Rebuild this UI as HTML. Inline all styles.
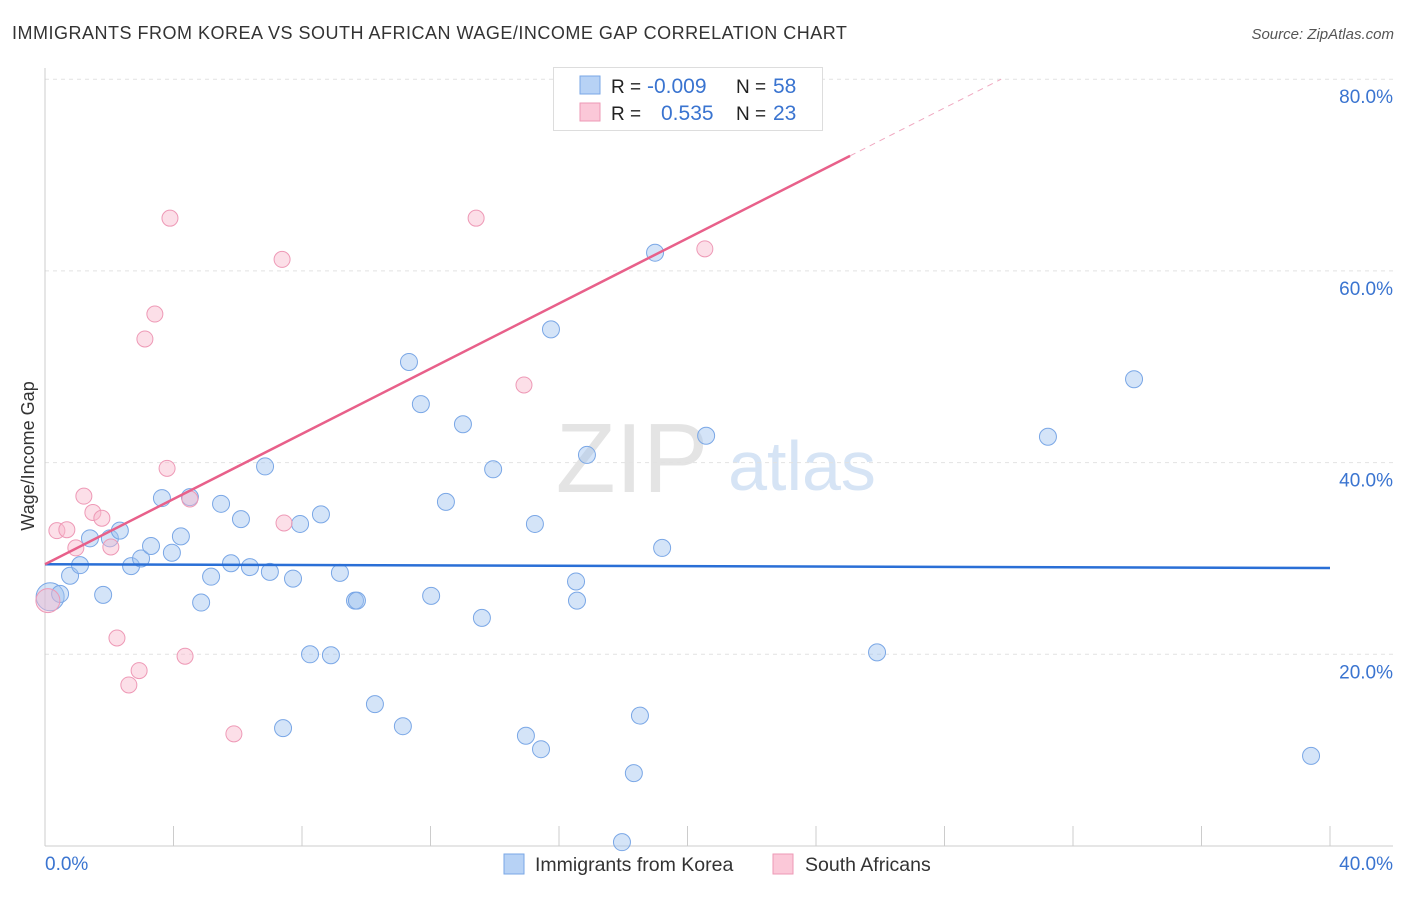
<!DOCTYPE html>
<html><head><meta charset="utf-8"><style>
body{margin:0;background:#fff;font-family:"Liberation Sans",sans-serif;}
svg text{font-family:"Liberation Sans",sans-serif;}
</style></head><body>
<svg id="chart" width="1406" height="892" xmlns="http://www.w3.org/2000/svg">
<text x="12" y="39" font-size="18" fill="#333" letter-spacing="0.5">IMMIGRANTS FROM KOREA VS SOUTH AFRICAN WAGE/INCOME GAP CORRELATION CHART</text>
<text x="1394" y="39" font-size="15" fill="#555" font-style="italic" text-anchor="end">Source: ZipAtlas.com</text>
<text x="34" y="456" font-size="18" fill="#333" text-anchor="middle" transform="rotate(-90 34 456)">Wage/Income Gap</text>
<g><text x="632" y="492" font-size="98" fill="#e4e4e4" font-family="Liberation Serif" text-anchor="middle">ZIP</text><text x="802" y="490" font-size="70" fill="#d6e4f5" text-anchor="middle">atlas</text></g>
<g id="grid"></g><g id="marks"></g>
<g>
<rect x="553.5" y="67.5" width="269" height="63" fill="#fff" stroke="#ddd"/>
<rect x="580" y="76" width="20" height="18" fill="#b7d2f5" stroke="#7aa7e6"/>
<rect x="580" y="103" width="20" height="18" fill="#fbc8d8" stroke="#ee99b6"/>
<text x="611" y="93" font-size="19" fill="#222">R =</text><text x="647" y="93" font-size="21" fill="#3a74d0">-0.009</text>
<text x="736" y="93" font-size="19" fill="#222">N =</text><text x="773" y="93" font-size="21" fill="#3a74d0">58</text>
<text x="611" y="120" font-size="19" fill="#222">R =</text><text x="661" y="120" font-size="21" fill="#3a74d0">0.535</text>
<text x="736" y="120" font-size="19" fill="#222">N =</text><text x="773" y="120" font-size="21" fill="#3a74d0">23</text>
</g>
<g>
<rect x="504" y="854" width="20" height="20" fill="#b7d2f5" stroke="#7aa7e6"/>
<text x="535" y="871" font-size="19.5" fill="#333">Immigrants from Korea</text>
<rect x="773" y="854" width="20" height="20" fill="#fbc8d8" stroke="#ee99b6"/>
<text x="805" y="871" font-size="19.5" fill="#333">South Africans</text>
</g>
</svg>
<script>
const xTicks=[0,40];
const yTicks=[20,40,60,80];
const koreaX=[0.16,0.47,0.78,1.09,1.40,1.81,2.02,2.33,2.68,2.99,3.30,3.64,3.95,4.23,4.51,4.86,5.17,5.48,5.79,6.10,6.38,6.85,7.00,7.41,7.72,7.94,8.25,8.59,8.90,9.18,9.65,9.71,10.27,11.14,11.33,11.70,12.02,12.48,13.01,13.60,13.95,14.97,15.25,15.44,15.75,16.53,16.56,16.87,17.96,18.33,18.52,18.99,19.21,20.58,25.90,31.22,33.90,39.41];
const koreaY=[26.0,26.3,28.2,29.3,32.1,26.2,32.1,32.9,29.2,30.0,31.3,36.3,30.6,32.3,36.4,25.4,28.1,35.7,29.5,34.1,29.1,39.6,28.6,12.3,27.9,33.6,20.0,34.6,19.9,28.5,25.6,25.6,14.8,12.5,50.5,46.1,26.1,35.9,44.0,23.8,39.3,11.5,33.6,10.1,53.9,27.6,25.6,40.8,0.4,7.6,13.6,61.9,31.1,42.8,20.2,42.7,48.7,9.4];
const safX=[0.09,0.37,0.68,0.96,1.21,1.49,1.77,2.05,2.24,2.61,2.93,3.11,3.42,3.80,3.89,4.36,4.51,5.88,7.38,7.44,13.42,14.91,20.54];
const safY=[25.6,32.9,33.0,31.1,36.5,34.8,34.2,31.2,21.7,16.8,18.3,52.9,55.5,39.4,65.5,19.8,36.2,11.7,61.2,33.7,65.5,48.1,62.3];
const koreaTrend=[29.4,29.0];
const safTrend=[29.4,1.70];
const NS="http://www.w3.org/2000/svg";
const sx=v=>45+v/40*1285;
const sy=v=>846-v/20*191.7;
function mk(tag,attrs,parent){const e=document.createElementNS(NS,tag);for(const k in attrs)e.setAttribute(k,attrs[k]);parent.appendChild(e);return e;}
const grid=document.getElementById('grid'),marks=document.getElementById('marks');
yTicks.forEach(v=>{
 const l=mk('line',{x1:45,x2:1393,y1:sy(v),y2:sy(v),stroke:'#e2e2e2','stroke-dasharray':'4,4'},grid);
 
 
 const t=mk('text',{x:1393,y:sy(v)+24,'font-size':19,fill:'#3a74d0','text-anchor':'end'},grid);t.textContent=v.toFixed(1)+'%';
 
 
});
for(let i=0;i<=10;i++){const x=sx(i*4);const l=mk('line',{x1:x,x2:x,y1:826,y2:846,stroke:'#ccc'},grid);
 
 }
let a=mk('line',{x1:45,x2:1393,y1:846,y2:846,stroke:'#ccc'},grid);


a=mk('line',{x1:45,x2:45,y1:68,y2:846,stroke:'#ccc'},grid);


xTicks.forEach((v,i)=>{const t=mk('text',{x:i?1393:45,y:870,'font-size':19,fill:'#3a74d0','text-anchor':i?'end':'start'},grid);t.textContent=v.toFixed(1)+'%';
 
 });
koreaX.forEach((x,i)=>{const c=mk('circle',{cx:sx(x),cy:sy(koreaY[i]),r:i==0?14:8.5,fill:'rgba(160,196,240,0.45)',stroke:'#7aa7e6','stroke-width':1},marks);
 
 });
safX.forEach((x,i)=>{const c=mk('circle',{cx:sx(x),cy:sy(safY[i]),r:i==0?12:8,fill:'rgba(248,184,204,0.45)',stroke:'#ee99b6','stroke-width':1},marks);
 
 });
let l=mk('line',{x1:sx(0),y1:sy(koreaTrend[0]),x2:sx(40),y2:sy(koreaTrend[1]),stroke:'#2a6fd6','stroke-width':2.5},marks);


const xe=25.06,xd=(80-safTrend[0])/safTrend[1];
l=mk('line',{x1:sx(0),y1:sy(safTrend[0]),x2:sx(xe),y2:sy(safTrend[0]+safTrend[1]*xe),stroke:'#e8608a','stroke-width':2.5},marks);


l=mk('line',{x1:sx(xe),y1:sy(safTrend[0]+safTrend[1]*xe),x2:sx(xd),y2:sy(80),stroke:'#f0a8c0','stroke-width':1,'stroke-dasharray':'6,5'},marks);


</script>
</body></html>
